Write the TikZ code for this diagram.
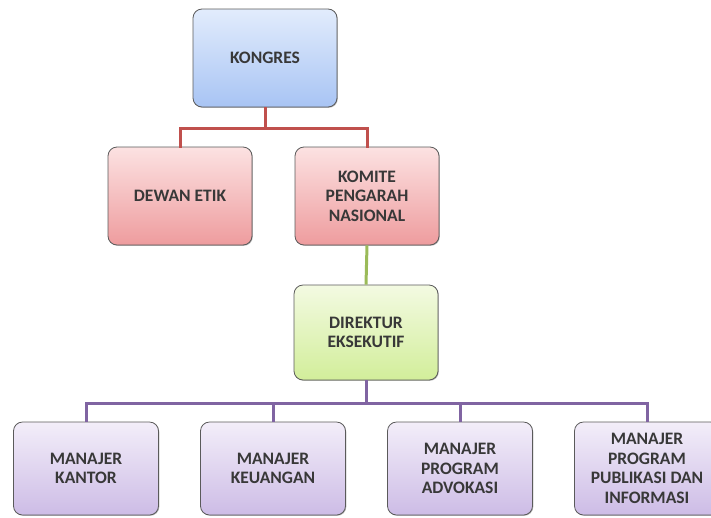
\documentclass[tikz,border=0pt]{standalone}
\usepackage{fontspec}
\setmainfont{Carlito}
\usetikzlibrary{shadows}
\definecolor{txt}{HTML}{383838}
\definecolor{bordr}{HTML}{5A5A5A}
\definecolor{ltop}{HTML}{E2ECFC}\definecolor{lbot}{HTML}{A8C4F4}
\definecolor{rtop}{HTML}{FCE2E2}\definecolor{rbot}{HTML}{EE9C9E}
\definecolor{gtop}{HTML}{F3FAE2}\definecolor{gbot}{HTML}{D2EE9A}
\definecolor{ptop}{HTML}{F3EEF9}\definecolor{pbot}{HTML}{CDBCE6}
\definecolor{redl}{HTML}{C0504D}
\definecolor{greenl}{HTML}{9BBB59}
\definecolor{purpl}{HTML}{8064A2}
\tikzset{
  box/.style={draw=bordr, line width=0.8pt, rounded corners=9pt, align=center,
    text=txt, font=\fontsize{17.5}{19.5}\selectfont\bfseries, inner sep=2pt,
    drop shadow={shadow xshift=0.8pt, shadow yshift=-0.8pt, opacity=0.45, fill=black!60}},
  bluebox/.style={box, top color=ltop, bottom color=lbot, minimum width=144pt, minimum height=98pt},
  redbox/.style={box, top color=rtop, bottom color=rbot, minimum width=144pt, minimum height=98pt},
  greenbox/.style={box, top color=gtop, bottom color=gbot, minimum width=144pt, minimum height=95pt},
  purbox/.style={box, top color=ptop, bottom color=pbot, minimum width=145pt, minimum height=93pt},
  link/.style={line width=3pt}
}
\begin{document}
\begin{tikzpicture}[x=1pt,y=-1pt]
\useasboundingbox (0,0) rectangle (711,517);
\node[bluebox] (kon) at (265,58) {KONGRES};
\node[redbox] (dew) at (180,196) {DEWAN ETIK};
\node[redbox] (kom) at (367,196) {KOMITE\\PENGARAH\\NASIONAL};
\node[greenbox] (dir) at (366,332.5) {DIREKTUR\\EKSEKUTIF};
\node[purbox] (m1) at (86,468.5) {MANAJER\\KANTOR};
\node[purbox] (m2) at (273,468.5) {MANAJER\\KEUANGAN};
\node[purbox] (m3) at (460,468.5) {MANAJER\\PROGRAM\\ADVOKASI};
\node[purbox] (m4) at (647,468.5) {MANAJER\\PROGRAM\\PUBLIKASI DAN\\INFORMASI};
\coordinate (rj) at (265,128);
\coordinate (pj) at (366,403);
\begin{scope}[on background layer/.try]
\draw[link, redl] (kon.south) -- (rj);
\draw[link, redl, line cap=rect] (dew.north) -- (dew.north |- rj) -- (kom.north |- rj) -- (kom.north);
\draw[link, greenl] (kom.south) -- (dir.north);
\draw[link, purpl] (dir.south) -- (pj);
\draw[link, purpl] (m1.north) -- (m1.north |- pj) -- (m4.north |- pj) -- (m4.north);
\draw[link, purpl] (m2.north |- pj) -- (m2.north);
\draw[link, purpl] (m3.north |- pj) -- (m3.north);
\end{scope}
\end{tikzpicture}
\end{document}
